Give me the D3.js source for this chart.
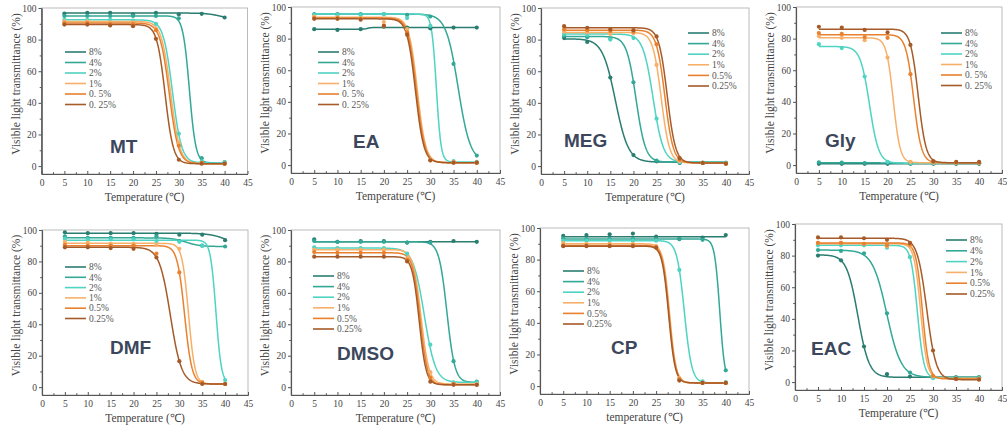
<!DOCTYPE html>
<html><head><meta charset="utf-8">
<script src="https://cdn.jsdelivr.net/npm/d3@7"></script>
<style>body{margin:0;background:#fff}svg{display:block}</style>
</head><body><svg id="c" width="1007" height="432"></svg>
<script>
// ---------- data ----------
const temps = [5, 10, 15, 20, 25, 30, 35, 40];
const xTicks = [0, 5, 10, 15, 20, 25, 30, 35, 40, 45];
const xMinor = [2.5, 7.5, 12.5, 17.5, 22.5, 27.5, 32.5, 37.5, 42.5];
const yTicks = [0, 20, 40, 60, 80, 100];
const yMinor = [10, 30, 50, 70, 90];
const panelNames = ["MT", "EA", "MEG", "Gly", "DMF", "DMSO", "CP", "EAC"];
const xTitles = ["Temperature (℃)", "Temperature (℃)", "Temperature (℃)", "Temperature (℃)",
                 "Temperature (℃)", "Temperature (℃)", "temperature (℃)", "Temperature (℃)"];
const yTitle = "Visible light transmittance (%)";
const labelsSpaced = ["8%", "4%", "2%", "1%", "0. 5%", "0. 25%"];
const labelsPlain = ["8%", "4%", "2%", "1%", "0.5%", "0.25%"];
const seriesColors = ["#2a7d71", "#33a896", "#4fd3c2", "#f7b06a", "#e8802e", "#a65a28"];

// measured points (5..40 ℃), one row per concentration 8%,4%,2%,1%,0.5%,0.25%
const mtPoints = [
  [96.5, 97, 97, 96, 97, 96, 96.3, 94],
  [95, 95, 95, 95, 95, 93.5, 5, 2.5],
  [92.5, 92.5, 92.5, 92, 90, 20.5, 3, 2.5],
  [91.5, 91.5, 91, 91, 87, 14.5, 2, 1.5],
  [90.5, 90.5, 90, 90, 86, 13, 2, 1.5],
  [89.5, 89.5, 89, 88.5, 80.5, 4, 1.5, 1.5]];
const eaPoints = [
  [86, 85.5, 86, 87.5, 87, 86.5, 87, 87],
  [95.5, 95.5, 95.5, 95.5, 95, 94, 64, 6],
  [95, 95, 95, 95.5, 93, 88, 2.5, 2],
  [94, 93.5, 93, 90.5, 86, 3.5, 2, 1.5],
  [93, 93, 92.5, 88, 84, 3, 1.5, 1.5],
  [92.5, 92.5, 92, 88, 82.5, 3, 1.5, 1.5]];
const megPoints = [
  [81, 78.5, 56, 7, 3, 2, 2, 2],
  [82.5, 81.5, 80.5, 53, 3.5, 2.5, 2, 2],
  [83.5, 83, 80, 81, 30, 2.5, 2, 2],
  [85, 84.5, 83.5, 84, 64, 3, 2, 1.5],
  [86.5, 86, 85.5, 85, 77, 4, 2, 1.5],
  [88.5, 87.5, 86.5, 86, 82, 5, 2, 1.5]];
const glyPoints = [
  [0.8, 0.8, 0.8, 0.8, 0.8, 0.8, 0.8, 0.8],
  [1.8, 1.5, 1.3, 1.5, 1.2, 1.2, 1.2, 1.2],
  [76.5, 74, 56, 2, 1.2, 1.2, 1.2, 1.2],
  [81.5, 80.5, 79, 68, 2, 1.5, 1.5, 1.5],
  [83.5, 83, 81, 80.5, 57.5, 2, 1.5, 1.5],
  [87.5, 87, 85.5, 84, 76, 2.5, 2, 2]];
const dmfPoints = [
  [98.5, 98, 98, 98, 97.5, 97, 97, 93.5],
  [96, 95, 95, 95, 96, 93, 90, 89.5],
  [94.5, 94, 94, 94, 93, 92.5, 90, 4.5],
  [92.5, 92, 91, 91, 90.5, 88, 3, 2],
  [90.5, 90, 90, 90, 85, 73, 3, 2],
  [89, 89, 88.5, 88, 82.5, 16.5, 2, 2]];
const dmsoPoints = [
  [94, 92.5, 93, 93, 92, 92.5, 93, 92.5],
  [93, 92.5, 92.5, 92.5, 92, 92, 16.5, 3.5],
  [89, 88.5, 88.5, 88.5, 85, 27, 3, 3],
  [87.5, 87.5, 87.5, 87.5, 82, 9.5, 2, 2],
  [86, 85.5, 85.5, 85.5, 81, 6, 2, 1.5],
  [83, 83, 83, 83, 80, 3.5, 1.5, 1.5]];
const cpPoints = [
  [95, 95.5, 96, 96.5, 94.5, 93, 94, 95.5],
  [93.5, 93, 93, 93, 93, 93, 92.5, 10],
  [92, 92, 92, 92, 92, 73.5, 3, 2.5],
  [90.5, 90, 90, 90, 88.5, 5, 2, 2],
  [89, 89, 89, 89, 88, 4.5, 2, 2],
  [88.5, 88.5, 88.5, 88.5, 87.5, 3.5, 2, 2]];
const eacPoints = [
  [80, 77, 22.5, 5, 3.5, 3, 3, 3],
  [83.5, 83, 81.5, 43.5, 6, 3, 3, 3],
  [86.5, 86.5, 86.5, 85, 79, 2.5, 2.5, 2.5],
  [88, 88, 87.5, 86, 86, 3.5, 2, 2],
  [88, 88, 87.5, 86.5, 87, 4, 2, 2],
  [91.5, 91.5, 91, 90, 88, 20, 2, 1.5]];

// Boltzmann fit curves: [top, bottom, x0, dx]
const mtFits = [[96.8, 93, 39, 1.5], [95, 2, 32.3, 0.7], [92.5, 2, 28.6, 1.0], [91.5, 1.5, 28.2, 1.0], [90.5, 1.5, 27.9, 1.0], [89.5, 1.5, 27.0, 0.9]];
const eaFits = [[86, 87, 16.5, 0.3], [95.5, 2, 36.0, 1.3], [95.5, 2, 31.3, 0.5], [93.5, 1.5, 27.2, 0.9], [93, 1.5, 27.0, 0.9], [92.5, 1.5, 26.8, 0.9]];
const megFits = [[80.5, 2.5, 16.1, 1.4], [82, 2.5, 20.57, 1.02], [83.5, 2.5, 24.25, 1.1], [84.5, 2, 26.0, 0.9], [86, 2, 26.8, 0.9], [87.5, 2, 27.3, 0.9]];
const glyFits = [[0.8, 0.8, 20, 1], [1.5, 1.2, 20, 2], [75, 1.2, 16.06, 1.0], [80.5, 1.5, 21.25, 0.75], [82.5, 1.5, 25.7, 0.85], [86, 1.5, 26.7, 0.85]];
const dmfFits = [[98, 88, 41, 2], [95, 89.5, 31.5, 1.5], [93.5, 2, 38.0, 0.6], [91.5, 2, 32.0, 0.7], [90, 2, 31.15, 0.8], [89, 2, 28.05, 1.21]];
const dmsoFits = [[92.5, 92.5, 30, 1], [92.5, 3, 33.57, 0.85], [88.5, 3, 28.7, 1.2], [87.5, 2, 28.0, 0.85], [85.5, 1.5, 27.8, 0.8], [83, 1.5, 27.6, 0.75]];
const cpFits = [[94.5, 94.5, 30, 1], [93, 2, 38.7, 0.55], [92, 2, 31.08, 0.8], [90, 2, 27.9, 0.7], [89, 2, 27.8, 0.7], [88.5, 2, 27.7, 0.7]];
const eacFits = [[80.5, 3, 13.68, 1.21], [83.5, 3, 19.95, 1.55], [86.5, 2.5, 26.6, 0.7], [87.5, 2.5, 27.3, 0.7], [88, 2, 27.7, 0.7], [91, 1.5, 28.63, 1.02]];

const allPoints = [mtPoints, eaPoints, megPoints, glyPoints, dmfPoints, dmsoPoints, cpPoints, eacPoints];
const allFits = [mtFits, eaFits, megFits, glyFits, dmfFits, dmsoFits, cpFits, eacFits];
const allLegendLabels = [labelsSpaced, labelsSpaced, labelsPlain, labelsSpaced, labelsPlain, labelsPlain, labelsPlain, labelsPlain];

// ---------- layout ----------
const layout = [
  {L: 41.5, T: 8, W: 206, H: 166, lg: [23.5, 44, 10.5], nm: [68.5, 145]},
  {L: 291, T: 7, W: 209, H: 166, lg: [27, 45, 10.5], nm: [62, 141]},
  {L: 541, T: 8, W: 208, H: 166, lg: [147, 25, 10.6], nm: [23, 139]},
  {L: 796, T: 7, W: 206, H: 166, lg: [145, 26, 10.5], nm: [29, 140]},
  {L: 42, T: 230, W: 206, H: 165, lg: [23, 37, 10.3], nm: [68, 124]},
  {L: 291, T: 230, W: 209, H: 165, lg: [22, 46, 10.6], nm: [46, 130]},
  {L: 540, T: 228, W: 209, H: 166, lg: [23, 43, 10.6], nm: [71, 126]},
  {L: 795, T: 224, W: 207, H: 166, lg: [151, 16, 10.8], nm: [16, 131]}
];

const svg = d3.select("#c");
const serif = "'Liberation Serif', 'Times New Roman', serif";

function boltz(p, x) { return p[1] + (p[0] - p[1]) / (1 + Math.exp((x - p[2]) / p[3])); }

panelNames.forEach((name, i) => {
  const lay = layout[i];
  const g = svg.append("g").attr("transform", `translate(${lay.L},${lay.T})`);
  const x = d3.scaleLinear().domain([0, 45]).range([0, lay.W]);
  const y = d3.scaleLinear().domain([-5, 100]).range([lay.H, 0]);

  // frame top/right
  g.append("rect").attr("x", 0).attr("y", 0).attr("width", lay.W).attr("height", lay.H)
    .attr("fill", "none").attr("stroke", "#aaa").attr("stroke-width", 0.8);

  // axes
  const xa = g.append("g").attr("transform", `translate(0,${lay.H})`)
    .call(d3.axisBottom(x).tickValues(xTicks).tickSizeInner(-3).tickSizeOuter(0).tickPadding(5));
  g.append("g").attr("transform", `translate(0,${lay.H})`)
    .call(d3.axisBottom(x).tickValues(xMinor).tickSizeInner(-1.8).tickSizeOuter(0).tickFormat(""));
  const ya = g.append("g")
    .call(d3.axisLeft(y).tickValues(yTicks).tickSizeInner(3).tickSizeOuter(0).tickPadding(2));
  g.append("g").call(d3.axisLeft(y).tickValues(yMinor).tickSizeInner(1.8).tickSizeOuter(0).tickFormat(""));
  g.selectAll(".domain").attr("stroke", "#555").attr("stroke-width", 1.1);
  g.selectAll(".tick line").attr("stroke", "#555");
  g.selectAll(".tick text").attr("font-family", serif).attr("font-size", 9.5).attr("fill", "#444");

  // titles
  g.append("text").attr("x", lay.W / 2).attr("y", lay.H + 27).attr("text-anchor", "middle")
    .attr("font-family", serif).attr("font-size", 11.5).attr("fill", "#444").text(xTitles[i]);
  g.append("text").attr("transform", `translate(-22,${lay.H / 2 - 7}) rotate(-90)`).attr("text-anchor", "middle")
    .attr("font-family", serif).attr("font-size", 11.5).attr("fill", "#444").text(yTitle);

  // curves
  const line = d3.line().x(d => x(d[0])).y(d => y(d[1]));
  const samples = d3.range(5, 40.001, 0.1);
  allFits[i].forEach((p, s) => {
    g.append("path").datum(samples.map(t => [t, boltz(p, t)]))
      .attr("d", line).attr("fill", "none").attr("stroke", seriesColors[s]).attr("stroke-width", 1.5);
  });
  allPoints[i].forEach((vals, s) => {
    g.selectAll(null).data(vals).enter().append("circle")
      .attr("cx", (d, k) => x(temps[k])).attr("cy", d => y(d)).attr("r", 2.1)
      .attr("fill", seriesColors[s]);
  });

  // legend
  const [lx, ly, ls] = lay.lg;
  allLegendLabels[i].forEach((lab, s) => {
    g.append("line").attr("x1", lx).attr("x2", lx + 21).attr("y1", ly + s * ls).attr("y2", ly + s * ls)
      .attr("stroke", seriesColors[s]).attr("stroke-width", 1.6);
    g.append("text").attr("x", lx + 24).attr("y", ly + s * ls + 3.2)
      .attr("font-family", serif).attr("font-size", 9.5).attr("fill", "#555").text(lab);
  });

  // name
  g.append("text").attr("x", lay.nm[0]).attr("y", lay.nm[1])
    .attr("font-family", "'Liberation Sans', Arial, sans-serif").attr("font-weight", "bold")
    .attr("font-size", 19).attr("fill", "#3c475c").text(name);
});
</script></body></html>
